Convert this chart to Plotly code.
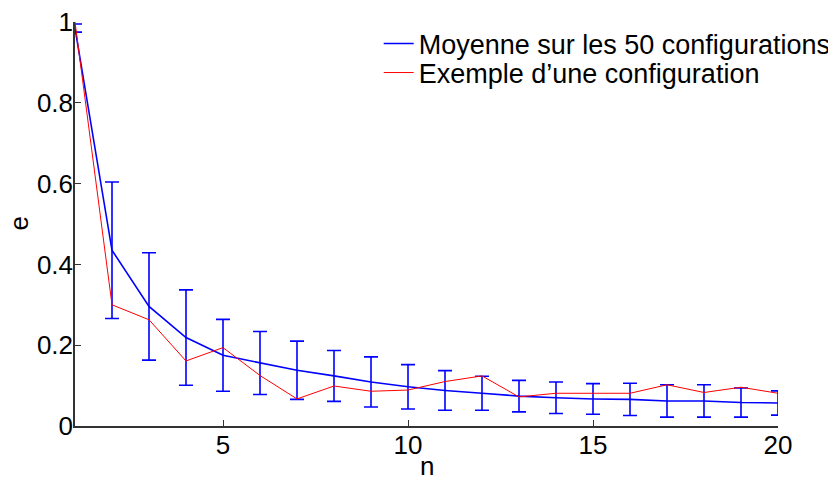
import plotly.graph_objects as go

# values
n = list(range(1, 21))
moyenne = [0.985, 0.435, 0.296, 0.219, 0.175, 0.156, 0.138, 0.124, 0.109, 0.097,
           0.088, 0.081, 0.074, 0.070, 0.067, 0.066, 0.062, 0.062, 0.058, 0.057]
ecart = [0.01, 0.169, 0.133, 0.118, 0.089, 0.078, 0.072, 0.063, 0.062, 0.055,
         0.049, 0.042, 0.039, 0.039, 0.038, 0.040, 0.040, 0.040, 0.036, 0.030]
exemple = [1.0, 0.300, 0.263, 0.161, 0.194, 0.125, 0.067, 0.099, 0.086, 0.089,
           0.110, 0.124, 0.072, 0.081, 0.081, 0.081, 0.102, 0.083, 0.096, 0.081]

x_ticks = [5, 10, 15, 20]
y_ticks = [0, 0.2, 0.4, 0.6, 0.8, 1]

font = "Liberation Sans, Arial, sans-serif"
axis_col = "#333333"

fig = go.Figure()
fig.add_trace(go.Scatter(
    x=n, y=moyenne, mode="lines",
    name="Moyenne sur les 50 configurations",
    line=dict(color="#0000ff", width=1.6),
    error_y=dict(type="data", array=ecart, visible=True,
                 color="#0000ff", thickness=1.6, width=7),
    legend="legend",
))
fig.add_trace(go.Scatter(
    x=n, y=exemple, mode="lines",
    name="Exemple d\u2019une configuration",
    line=dict(color="#ff0000", width=1),
    legend="legend2",
))

# one legend per row so the rows sit as close as in the reference
leg = dict(x=0.432, xanchor="left", yanchor="middle",
           bgcolor="rgba(0,0,0,0)", font=dict(size=27), itemwidth=30)

# page body has an 8px margin, so the figure is a bit smaller than the window
fig.update_layout(
    width=828, height=469,
    margin=dict(l=67, r=58, t=14, b=51, autoexpand=False),
    paper_bgcolor="white", plot_bgcolor="white",
    font=dict(family=font, size=26, color="black"),
    legend=dict(leg, y=0.9455),
    legend2=dict(leg, y=0.8738),
    showlegend=True,
)
fig.update_xaxes(
    range=[1, 20], tickvals=x_ticks, showgrid=False, zeroline=False,
    showline=True, linecolor=axis_col, linewidth=1.5,
    ticks="inside", ticklen=6, tickcolor=axis_col, tickwidth=1,
    ticklabelstandoff=-5, ticklabeloverflow="allow",
)
fig.update_yaxes(
    range=[0, 1], tickvals=y_ticks, ticktext=["0", "0.2", "0.4", "0.6", "0.8", "1"],
    showgrid=False, zeroline=False,
    showline=True, linecolor=axis_col, linewidth=1.5,
    ticks="inside", ticklen=6, tickcolor=axis_col, tickwidth=1,
    ticklabelstandoff=-5, ticklabeloverflow="allow",
)

# axis titles as annotations: the reference puts "n" right at the bottom edge
fig.add_annotation(text="n", xref="paper", yref="paper", x=0.5007, y=-0.0557,
                   xanchor="center", yanchor="top", showarrow=False,
                   font=dict(size=26))
fig.add_annotation(text="e", xref="paper", yref="paper", x=-0.079, y=0.5025,
                   xanchor="center", yanchor="middle", textangle=-90,
                   showarrow=False, font=dict(size=26))

fig.write_html("out.html")
